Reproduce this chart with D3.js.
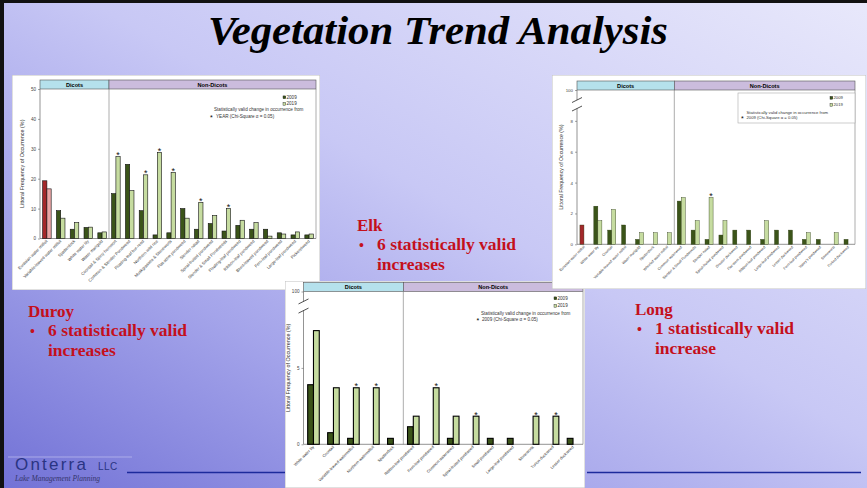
<!DOCTYPE html>
<html>
<head>
<meta charset="utf-8">
<script src="https://cdn.jsdelivr.net/npm/d3@7/dist/d3.min.js"></script>
<style>
  body { margin: 0; overflow: hidden; }
  svg { display: block; font-family: "Liberation Sans", Arial, sans-serif; }
</style>
</head>
<body>
<svg width="867" height="488"></svg>
<script>
// ---- Duroy ----
var duroyCategories = ["Eurasian water milfoil", "Variable-leaved water milfoil", "Spatterdock", "White water lily",
  "Water marigold", "Coontail & Spiny hornwort", "Common & Slender Pondweed", "Floating-leaf bur-reed",
  "Northern wild rice", "Muskgrasses & Stoneworts", "Flat-stem pondweed", "Slender naiad",
  "Spiral-fruited pondweed", "Slender & Small Pondweeds", "Floating-leaf pondweed", "Ribbon-leaf pondweed",
  "Blunt-leaved pondweed", "Fern-leaf pondweed", "Large-leaf pondweed", "Pickerelweed"];
var duroy2009 = [19.3, 9.3, 3.1, 3.7, 1.9, 15.0, 24.8, 9.3, 1.2, 1.9, 10.0, 3.1, 5.0, 2.5, 4.4, 3.1, 3.1, 1.9, 1.2, 1.2];
var duroy2019 = [16.6, 6.8, 5.3, 3.8, 2.2, 27.4, 16.0, 21.3, 28.8, 22.1, 6.8, 12.1, 7.7, 10.0, 6.1, 5.3, 0.8, 1.5, 2.2, 1.5];
var duroyStars = [0, 0, 0, 0, 0, 1, 0, 1, 1, 1, 0, 1, 0, 1, 0, 0, 0, 0, 0, 0];
var duroyTicks = [0, 10, 20, 30, 40, 50];

// ---- Long ----
var longCategories = ["Eurasian water milfoil", "White water lily", "Coontail", "Variable-leaved water milfoil",
  "Water marigold", "Spatterdock", "Whorled water milfoil", "Common waterweed", "Slender & Small Pondweeds",
  "Slender naiad", "Spiral-fruited pondweed", "Greater duckweed", "Flat-stem pondweed", "Ribbon-leaf pondweed",
  "Large-leaf pondweed", "Lesser duckweed", "Fern-leaf pondweed", "Vasey's pondweed", "Stoneworts", "Forked duckweed"];
var long2009 = [1.25, 2.47, 0.92, 1.25, 0.32, 0, 0, 2.8, 0.92, 0.32, 0.6, 0.92, 0.92, 0.32, 0.92, 0.92, 0.32, 0.32, 0, 0.32];
var long2019 = [0, 1.53, 2.26, 0, 0.75, 0.75, 0.75, 3.03, 1.53, 3.03, 1.53, 0, 0, 1.53, 0, 0, 0.75, 0, 0.75, 0];
var longStars = [0, 0, 0, 0, 0, 0, 0, 0, 0, 1, 0, 0, 0, 0, 0, 0, 0, 0, 0, 0];
var longTicks = [0, 2, 4, 6, 8];

// ---- Elk ----
var elkCategories = ["White water lily", "Coontail", "Variable-leaved watermilfoil", "Northern watermilfoil",
  "Spatterdock", "Ribbon-leaf pondweed", "Fern-leaf pondweed", "Common waterweed", "Spiral-fruited pondweed",
  "Small pondweed", "Large-leaf pondweed", "Stoneworts", "Turion duckweed", "Lesser duckweed"];
var elk2009 = [3.9, 0.76, 0.39, 0, 0.39, 1.15, 0, 0.39, 0, 0.39, 0.39, 0, 0, 0.39];
var elk2019 = [7.44, 3.7, 3.7, 3.7, 0, 1.84, 3.7, 1.84, 1.84, 0, 0, 1.84, 1.84, 0];
var elkStars = [0, 0, 1, 1, 0, 0, 1, 0, 1, 0, 0, 1, 1, 0];
var elkTicks = [0, 5];

var svg = d3.select("svg");
var defs = svg.append("defs");

// slide background
var bg = defs.append("linearGradient").attr("id", "bg")
  .attr("x1", 0).attr("y1", 1).attr("x2", 1).attr("y2", 0);
bg.append("stop").attr("offset", "0").attr("stop-color", "#7272d6");
bg.append("stop").attr("offset", "0.3").attr("stop-color", "#a4a4ea");
bg.append("stop").attr("offset", "0.55").attr("stop-color", "#c8c8f5");
bg.append("stop").attr("offset", "1").attr("stop-color", "#e8e8fb");
svg.append("rect").attr("width", 867).attr("height", 488).attr("fill", "url(#bg)");
svg.append("rect").attr("x", 0).attr("y", 0).attr("width", 867).attr("height", 3).attr("fill", "#111");
svg.append("rect").attr("x", 0).attr("y", 0).attr("width", 4).attr("height", 488).attr("fill", "#111");

svg.append("text")
  .attr("x", 438).attr("y", 44)
  .attr("text-anchor", "middle")
  .attr("textLength", 460).attr("lengthAdjust", "spacingAndGlyphs")
  .style("font-family", "'Liberation Serif', serif")
  .style("font-style", "italic").style("font-weight", "bold")
  .style("font-size", "40px").attr("fill", "#000")
  .text("Vegetation Trend Analysis");

var c09 = "#3b5419", c19 = "#c6dca0";

function drawChart(cfg) {
  defs.append("clipPath").attr("id", "clip-" + cfg.id)
    .append("rect").attr("x", cfg.panel[0]).attr("y", cfg.panel[1])
    .attr("width", cfg.panel[2]).attr("height", cfg.panel[3]);
  var g = svg.append("g").attr("clip-path", "url(#clip-" + cfg.id + ")");
  g.append("rect").attr("x", cfg.panel[0]).attr("y", cfg.panel[1])
    .attr("width", cfg.panel[2]).attr("height", cfg.panel[3])
    .attr("fill", "#fff").attr("stroke", "#c0c0c0").attr("stroke-width", 1);

  var x = d3.scaleBand().domain(cfg.categories).range([cfg.left, cfg.right])
    .paddingInner(cfg.pad).paddingOuter(cfg.pad / 2);
  var xs = d3.scaleBand().domain(["2009", "2019"]).range([0, x.bandwidth()]);
  var y = d3.scaleLinear().domain([0, cfg.ymax]).range([cfg.bottom, cfg.top]);
  var divX = cfg.left + x.step() * cfg.nDicots;

  // group headers
  g.append("rect").attr("x", cfg.left).attr("y", cfg.headTop)
    .attr("width", divX - cfg.left).attr("height", cfg.top - cfg.headTop)
    .attr("fill", "#b5e1ec").attr("stroke", "#555").attr("stroke-width", 0.6);
  g.append("rect").attr("x", divX).attr("y", cfg.headTop)
    .attr("width", cfg.right - divX).attr("height", cfg.top - cfg.headTop)
    .attr("fill", "#cbbcdd").attr("stroke", "#555").attr("stroke-width", 0.6);
  g.append("text").attr("x", (cfg.left + divX) / 2).attr("y", (cfg.headTop + cfg.top) / 2 + 2)
    .attr("text-anchor", "middle").style("font-size", "5.6px").style("font-weight", "bold").text("Dicots");
  g.append("text").attr("x", (divX + cfg.right) / 2).attr("y", (cfg.headTop + cfg.top) / 2 + 2)
    .attr("text-anchor", "middle").style("font-size", "5.6px").style("font-weight", "bold").text("Non-Dicots");

  // plot frame and divider
  g.append("line").attr("x1", cfg.right).attr("x2", cfg.right).attr("y1", cfg.top).attr("y2", cfg.bottom)
    .attr("stroke", "#8a8a8a").attr("stroke-width", 0.7);
  g.append("line").attr("x1", divX).attr("x2", divX).attr("y1", cfg.top).attr("y2", cfg.bottom)
    .attr("stroke", "#8a8a8a").attr("stroke-width", 0.7);
  g.append("line").attr("x1", cfg.left).attr("x2", cfg.right).attr("y1", cfg.bottom).attr("y2", cfg.bottom)
    .attr("stroke", "#666").attr("stroke-width", 0.7);

  // y axis
  var ticks = cfg.ticks.slice();
  if (cfg.topLabel) ticks.push(cfg.ymax);
  var axis = d3.axisLeft(y).tickValues(ticks).tickSize(2).tickPadding(2)
    .tickFormat(function(d) { return (cfg.topLabel && d === cfg.ymax) ? cfg.topLabel : d; });
  var ax = g.append("g").attr("transform", "translate(" + cfg.left + ",0)").call(axis);
  ax.select(".domain").remove();
  ax.selectAll("line").attr("stroke", "#666").attr("stroke-width", 0.6);
  ax.selectAll("text").style("font-size", cfg.tickFont + "px").attr("fill", "#444").style("font-family", "'Liberation Sans', Arial, sans-serif");
  if (cfg.breakAt) {
    var yb0 = y(cfg.breakAt[0]), yb1 = y(cfg.breakAt[1]);
    g.append("line").attr("x1", cfg.left).attr("x2", cfg.left).attr("y1", cfg.bottom).attr("y2", yb0)
      .attr("stroke", "#666").attr("stroke-width", 0.7);
    g.append("line").attr("x1", cfg.left).attr("x2", cfg.left).attr("y1", yb1).attr("y2", cfg.top)
      .attr("stroke", "#666").attr("stroke-width", 0.7);
    [yb0, yb1].forEach(function(yy) {
      g.append("line").attr("x1", cfg.left - 5).attr("x2", cfg.left + 5)
        .attr("y1", yy + 2.5).attr("y2", yy - 2.5)
        .attr("stroke", "#222").attr("stroke-width", 0.8);
    });
  } else {
    g.append("line").attr("x1", cfg.left).attr("x2", cfg.left).attr("y1", cfg.bottom).attr("y2", cfg.top)
      .attr("stroke", "#666").attr("stroke-width", 0.7);
  }

  // y title
  g.append("text")
    .attr("transform", "translate(" + cfg.titleX + "," + (cfg.top + cfg.bottom) / 2 + ") rotate(-90)")
    .attr("text-anchor", "middle").style("font-size", cfg.titleFont + "px").attr("fill", "#333")
    .text("Littoral Frequency of Occurrence (%)");

  // bars
  cfg.categories.forEach(function(c, i) {
    var red = cfg.redFirst && i === 0;
    [["2009", cfg.v09[i], red ? "#a3282a" : c09], ["2019", cfg.v19[i], red ? "#e9a5a5" : c19]].forEach(function(s) {
      if (!s[1]) return;
      g.append("rect")
        .attr("x", x(c) + xs(s[0])).attr("y", y(s[1]))
        .attr("width", xs.bandwidth()).attr("height", cfg.bottom - y(s[1]))
        .attr("fill", s[2]).attr("stroke", cfg.barStroke).attr("stroke-width", cfg.barStrokeW);
    });
    if (cfg.stars[i]) {
      g.append("text").attr("x", x(c) + xs("2019") + xs.bandwidth() / 2).attr("y", y(cfg.v19[i]) + 1.6)
        .attr("text-anchor", "middle").style("font-size", "9px").attr("fill", "#111").text("*");
    }
    g.append("text")
      .attr("transform", "translate(" + (x(c) + x.bandwidth() / 2 + 1) + "," + (cfg.bottom + 3) + ") rotate(-45)")
      .attr("text-anchor", "end").style("font-size", cfg.labelFont + "px").attr("fill", "#333")
      .text(c);
  });

  // legend
  var L = cfg.legend;
  if (L.box) {
    g.append("rect").attr("x", L.box[0]).attr("y", L.box[1]).attr("width", L.box[2]).attr("height", L.box[3])
      .attr("fill", "#fff").attr("stroke", "#aaa").attr("stroke-width", 0.6);
  }
  [["2009", c09, L.y09], ["2019", c19, L.y19]].forEach(function(s) {
    g.append("rect").attr("x", L.sqX).attr("y", s[2] - 2.6).attr("width", 2.8).attr("height", 2.8)
      .attr("fill", s[1]).attr("stroke", "#222").attr("stroke-width", 0.4);
    g.append("text").attr("x", L.sqX + 3.5).attr("y", s[2]).style("font-size", L.font + "px").attr("fill", "#333").text(s[0]);
  });
  g.append("text").attr("x", L.line1[0]).attr("y", L.line1[1]).style("font-size", L.font + "px").attr("fill", "#333")
    .text("Statistically valid change in occurrence from");
  g.append("text").attr("x", L.starX).attr("y", L.line2[1] + 2).style("font-size", "7px").text("*");
  g.append("text").attr("x", L.line2[0]).attr("y", L.line2[1]).style("font-size", L.font + "px").attr("fill", "#333")
    .text(L.text2);
}

drawChart({
  id: "duroy", panel: [12, 75, 308, 215],
  left: 40, right: 316, top: 89, bottom: 238.5, headTop: 80,
  categories: duroyCategories, v09: duroy2009, v19: duroy2019, stars: duroyStars,
  ymax: 50, ticks: duroyTicks, nDicots: 5, pad: 0.38, redFirst: true,
  barStroke: "#111", barStrokeW: 0.6, tickFont: 4.6, labelFont: 4.2, titleX: 24, titleFont: 5.4,
  legend: { sqX: 283, y09: 98.5, y19: 105, font: 4.6, line1: [214, 111], line2: [216, 118], starX: 210,
    text2: "YEAR (Chi-Square \u03b1 = 0.05)" }
});

drawChart({
  id: "elk", panel: [285, 281, 300, 207],
  left: 303.5, right: 583, top: 291.5, bottom: 444.3, headTop: 282.5,
  categories: elkCategories, v09: elk2009, v19: elk2019, stars: elkStars,
  ymax: 10, ticks: elkTicks, topLabel: "100", breakAt: [8.75, 9.35], nDicots: 5, pad: 0.42,
  barStroke: "#000", barStrokeW: 1.1, tickFont: 4.6, labelFont: 4.0, titleX: 290, titleFont: 5.4,
  legend: { sqX: 554, y09: 299.5, y19: 307, font: 4.6, line1: [481, 314.5], line2: [482, 320.5], starX: 476.5,
    text2: "2009 (Chi-Square \u03b1 = 0.05)" }
});

drawChart({
  id: "long", panel: [552, 75, 314, 214],
  left: 577, right: 855, top: 90, bottom: 244.3, headTop: 81,
  categories: longCategories, v09: long2009, v19: long2019, stars: longStars,
  ymax: 10, ticks: longTicks, topLabel: "100", breakAt: [8.8, 9.35], nDicots: 7, pad: 0.42, redFirst: true,
  barStroke: "#2b3a12", barStrokeW: 0.4, tickFont: 4.4, labelFont: 3.6, titleX: 563, titleFont: 5.2,
  legend: { box: [738, 93, 117, 30], sqX: 830, y09: 99, y19: 106, font: 4.2, line1: [746.5, 113.5], line2: [746.5, 118.5], starX: 741,
    text2: "2009 (Chi-Square \u03b1 = 0.05)" }
});

// lake notes
function lakeNote(x, y, name, line1, line2) {
  var t = svg.append("g").attr("fill", "#c4101c")
    .style("font-family", "'Liberation Serif', 'DejaVu Serif', serif").style("font-weight", "bold");
  t.append("text").attr("x", x).attr("y", y).style("font-size", "17px").text(name);
  t.append("text").attr("x", x + 2).attr("y", y + 19).style("font-size", "14px").text("\u2022");
  t.append("text").attr("x", x + 20).attr("y", y + 19).style("font-size", "17.5px").text(line1);
  t.append("text").attr("x", x + 20).attr("y", y + 39).style("font-size", "17.5px").text(line2);
}
lakeNote(28, 317, "Duroy", "6 statistically valid", "increases");
lakeNote(357, 231, "Elk", "6 statistically valid", "increases");
lakeNote(635, 315, "Long", "1 statistically valid", "increase");

// footer
svg.append("line").attr("x1", 127).attr("x2", 285).attr("y1", 472.5).attr("y2", 472.5).attr("stroke", "#1c2a9c").attr("stroke-width", 1.3);
svg.append("line").attr("x1", 587).attr("x2", 861).attr("y1", 472.5).attr("y2", 472.5).attr("stroke", "#1c2a9c").attr("stroke-width", 1.3);
svg.append("line").attr("x1", 8).attr("x2", 132).attr("y1", 457).attr("y2", 457).attr("stroke", "#b8b8ee").attr("stroke-width", 0.8);
svg.append("text").attr("x", 15).attr("y", 470).style("font-size", "17px").style("letter-spacing", "2.2px")
  .attr("fill", "#2a3483").text("Onterra");
svg.append("text").attr("x", 98).attr("y", 470).style("font-size", "10px").style("letter-spacing", "0.5px")
  .attr("fill", "#2a3483").text("LLC");
svg.append("text").attr("x", 15).attr("y", 481).style("font-size", "7.5px").style("font-style", "italic")
  .style("font-family", "'Liberation Serif', serif").attr("fill", "#34346a").text("Lake Management Planning");
</script>
</body>
</html>
